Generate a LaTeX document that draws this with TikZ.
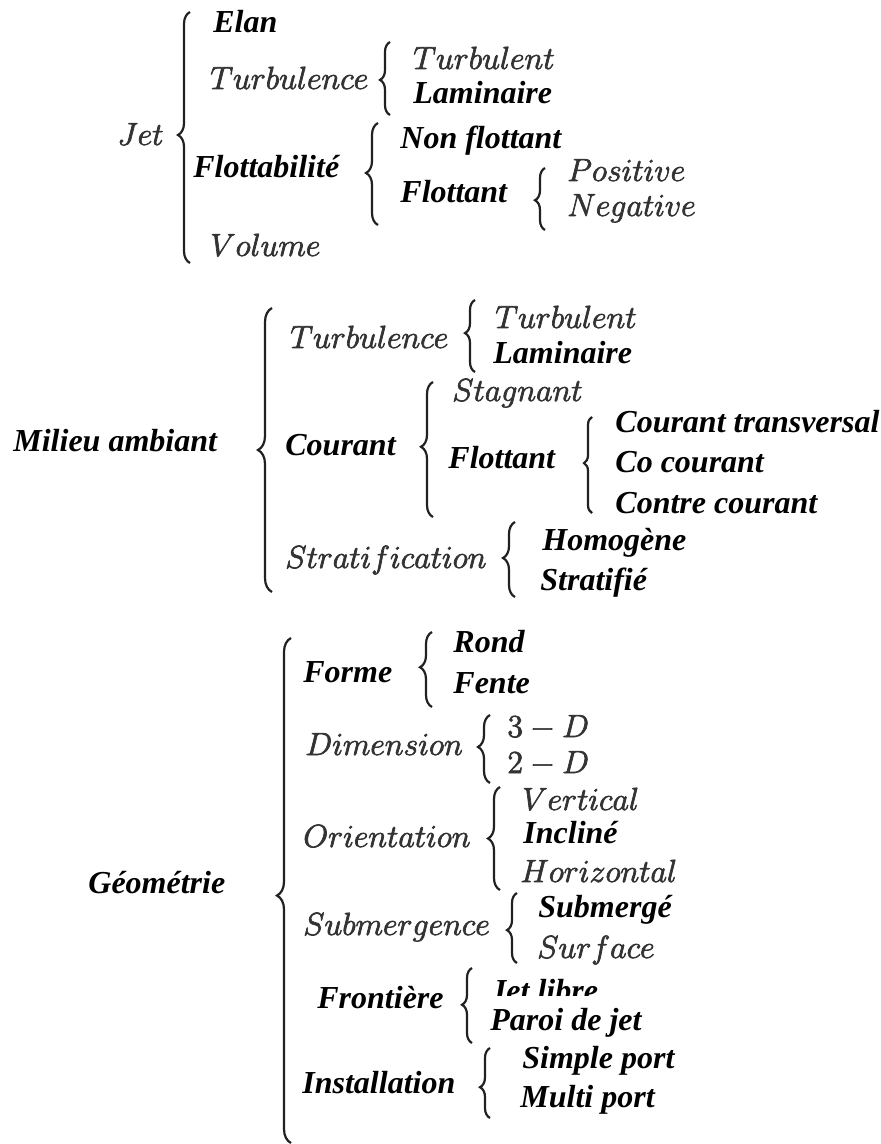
\RequirePackage{fix-cm}
\documentclass[tikz,border=0pt]{standalone}
\usepackage[no-math]{fontspec}
\newfontfamily\tms{Liberation Serif}
\usetikzlibrary{decorations.pathreplacing}
\definecolor{mgray}{rgb}{0.2,0.2,0.2}
\definecolor{bgray}{rgb}{0.13,0.13,0.13}
\newcommand{\tb}[1]{{\tms\bfseries\itshape #1}}
\makeatletter
\newcommand{\mt}[1]{\pgfsys@invoke{2 Tr 0.35 w}$#1$\pgfsys@invoke{0 Tr}}
\makeatother
\tikzset{
  lbl/.style={anchor=base west, inner sep=0pt, font=\fontsize{16}{19}\selectfont},
  tx/.style={lbl, text=black},
  mx/.style={lbl, text=mgray},
  brc/.style={decorate, line width=1.1pt, draw=bgray, decoration={brace, amplitude=#1}},
  brc/.default=5pt
}
\begin{document}
\begin{tikzpicture}[x=0.5pt, y=-0.5pt]
\useasboundingbox (0,0) rectangle (880,1144);
% ---------- Jet ----------
\node[mx] (jet) at (117,145) {\mt{Jet}};
\node[tx] (elan) at (213,33) {\tb{Elan}};
\node[mx] (turb1) at (210,89) {\mt{Turbulence}};
\node[mx] (turbt1) at (413,69) {\mt{Turbulent}};
\node[tx] (lam1) at (413,104) {\tb{Laminaire}};
\node[tx] (flott) at (193,178) {\tb{Flottabilité}};
\node[tx] (nonf) at (400,149) {\tb{Non flottant}};
\node[tx] (flot1) at (400,203) {\tb{Flottant}};
\node[mx] (pos) at (567,181) {\mt{Positive}};
\node[mx] (neg) at (567,216) {\mt{Negative}};
\node[mx] (vol) at (210,256) {\mt{Volume}};
\coordinate (bJa) at (190,263); \coordinate (bJb) at (190,12);
\draw[brc=6pt, decoration={aspect=0.51}] (bJa) -- (bJb);
\coordinate (bTa) at (390,115); \coordinate (bTb) at (390,42);
\draw[brc=5pt, decoration={aspect=0.48}] (bTa) -- (bTb);
\coordinate (bFa) at (378,225); \coordinate (bFb) at (378,123);
\draw[brc=6pt, decoration={aspect=0.51}] (bFa) -- (bFb);
\coordinate (bPa) at (545,230); \coordinate (bPb) at (545,168);
\draw[brc=5pt, decoration={aspect=0.48}] (bPa) -- (bPb);
% ---------- Milieu ambiant ----------
\node[tx] (mil) at (13,451) {\tb{Milieu ambiant}};
\node[mx] (turb2) at (290,348) {\mt{Turbulence}};
\node[mx] (turbt2) at (495,328) {\mt{Turbulent}};
\node[tx] (lam2) at (493,363) {\tb{Laminaire}};
\node[tx] (cour) at (285,455) {\tb{Courant}};
\node[mx] (stag) at (452,401) {\mt{Stagnant}};
\node[tx] (flot2) at (448,468) {\tb{Flottant}};
\node[tx] (ctr) at (615,432) {\tb{Courant transversal}};
\node[tx] (cocour) at (615,472) {\tb{Co courant}};
\node[tx] (contre) at (615,513) {\tb{Contre courant}};
\node[mx] (strat) at (285,568) {\mt{Stratification}};
\node[tx] (homo) at (542,550) {\tb{Homogène}};
\node[tx] (strf) at (540,590) {\tb{Stratifié}};
\coordinate (bMa) at (272,592); \coordinate (bMb) at (272,308);
\draw[brc=7pt, decoration={aspect=0.5}] (bMa) -- (bMb);
\coordinate (bT2a) at (475,372); \coordinate (bT2b) at (475,300);
\draw[brc=5pt, decoration={aspect=0.54}] (bT2a) -- (bT2b);
\coordinate (bCa) at (433,517); \coordinate (bCb) at (433,382);
\draw[brc=6pt, decoration={aspect=0.52}] (bCa) -- (bCb);
\coordinate (bF2a) at (592,513); \coordinate (bF2b) at (592,417);
\draw[brc=4pt, decoration={aspect=0.52}] (bF2a) -- (bF2b);
\coordinate (bSa) at (515,597); \coordinate (bSb) at (515,522);
\draw[brc=6pt, decoration={aspect=0.52}] (bSa) -- (bSb);
% ---------- Geometrie ----------
\node[tx] (geo) at (88,893) {\tb{Géométrie}};
\node[tx] (forme) at (303,682) {\tb{Forme}};
\node[tx] (rond) at (453,652) {\tb{Rond}};
\node[tx] (fente) at (453,693) {\tb{Fente}};
\node[mx] (dim) at (305,755) {\mt{Dimension}};
\node[mx] (d3) at (507,737) {\mt{3-D}};
\node[mx] (d2) at (507,773) {\mt{2-D}};
\node[mx] (orient) at (303,847) {\mt{Orientation}};
\node[mx] (vert) at (522,810) {\mt{Vertical}};
\node[tx] (incl) at (523,843) {\tb{Incliné}};
\node[mx] (horiz) at (520,882) {\mt{Horizontal}};
\node[mx] (subm) at (303,935) {\mt{Submergence}};
\node[tx] (submg) at (538,917) {\tb{Submergé}};
\node[mx] (surf) at (537,958) {\mt{Surface}};
\node[tx] (front) at (317,1008) {\tb{Frontière}};
\begin{scope}
  \clip (480,970) rectangle (650,995);
  \node[tx] (jlib) at (490,1001) {\tb{Jet libre}};
\end{scope}
\node[tx] (paroi) at (490,1030) {\tb{Paroi de jet}};
\node[tx] (inst) at (302,1093) {\tb{Installation}};
\node[tx] (simp) at (522,1068) {\tb{Simple port}};
\node[tx] (mult) at (520,1107) {\tb{Multi port}};
\coordinate (bGa) at (291,1143); \coordinate (bGb) at (291,638);
\draw[brc=7pt, decoration={aspect=0.49}] (bGa) -- (bGb);
\coordinate (bFoa) at (432,707); \coordinate (bFob) at (432,632);
\draw[brc=6pt, decoration={aspect=0.53}] (bFoa) -- (bFob);
\coordinate (bDa) at (490,783); \coordinate (bDb) at (490,715);
\draw[brc=6pt, decoration={aspect=0.53}] (bDa) -- (bDb);
\coordinate (bOa) at (500,890); \coordinate (bOb) at (500,787);
\draw[brc=6pt, decoration={aspect=0.5}] (bOa) -- (bOb);
\coordinate (bSua) at (517,963); \coordinate (bSub) at (517,893);
\draw[brc=5pt, decoration={aspect=0.47}] (bSua) -- (bSub);
\coordinate (bFra) at (472,1043); \coordinate (bFrb) at (472,968);
\draw[brc=5pt, decoration={aspect=0.51}] (bFra) -- (bFrb);
\coordinate (bIa) at (490,1118); \coordinate (bIb) at (490,1048);
\draw[brc=5pt, decoration={aspect=0.44}] (bIa) -- (bIb);
\end{tikzpicture}
\end{document}
